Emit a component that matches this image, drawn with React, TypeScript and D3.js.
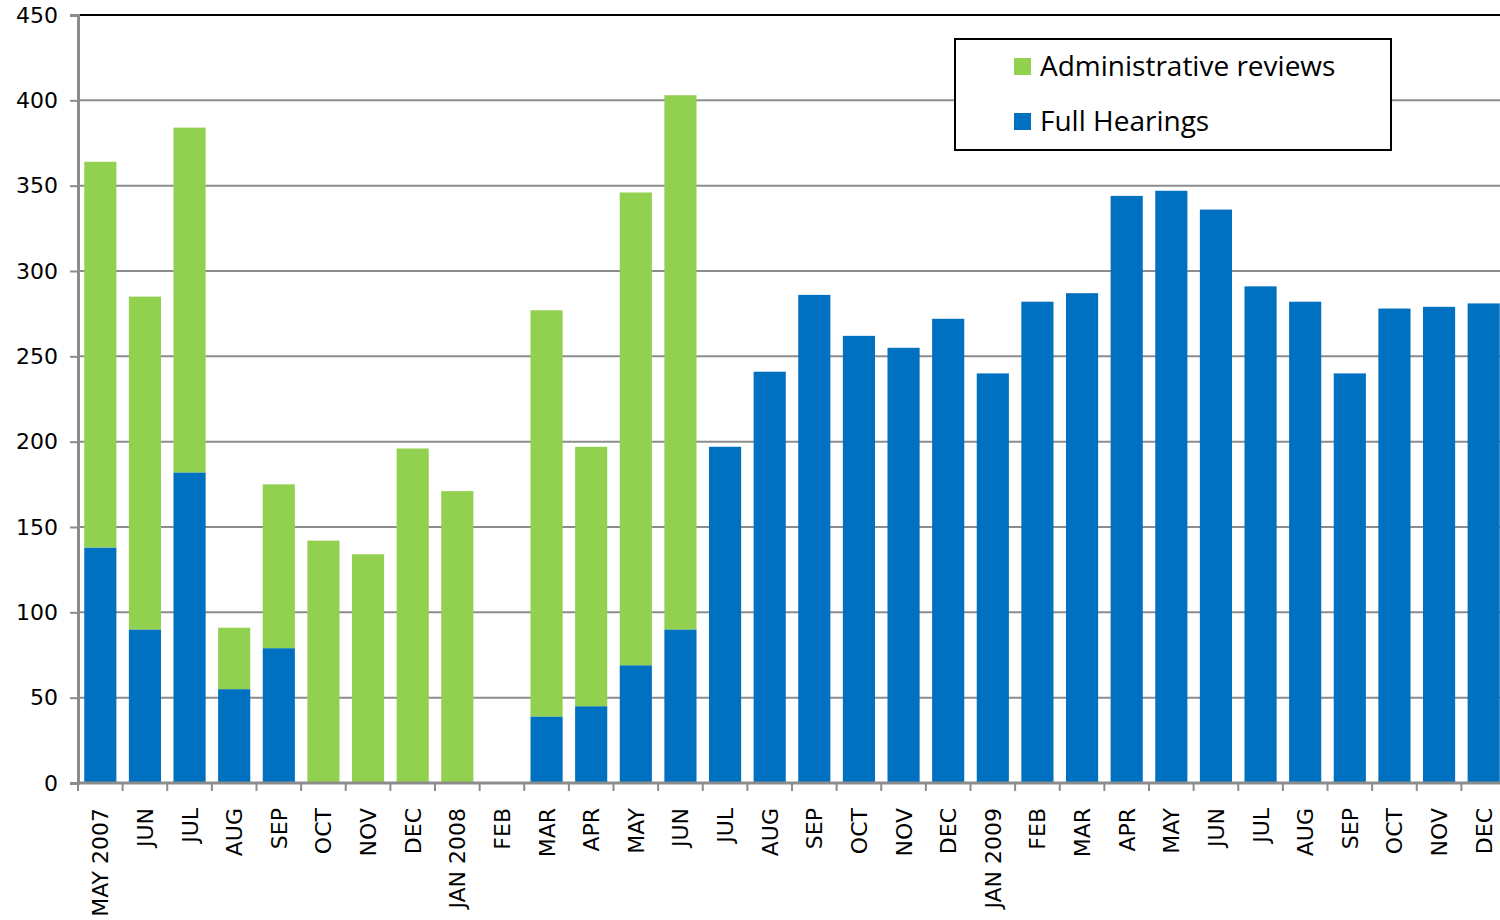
import React, { useEffect, useRef } from 'react';
import * as d3 from 'd3';

const months = [
  'MAY 2007', 'JUN', 'JUL', 'AUG', 'SEP', 'OCT', 'NOV', 'DEC',
  'JAN 2008', 'FEB', 'MAR', 'APR', 'MAY', 'JUN', 'JUL', 'AUG', 'SEP', 'OCT', 'NOV', 'DEC',
  'JAN 2009', 'FEB', 'MAR', 'APR', 'MAY', 'JUN', 'JUL', 'AUG', 'SEP', 'OCT', 'NOV', 'DEC',
];

const fullHearings = [
  138, 90, 182, 55, 79, 0, 0, 0,
  0, 0, 39, 45, 69, 90, 197, 241, 286, 262, 255, 272,
  240, 282, 287, 344, 347, 336, 291, 282, 240, 278, 279, 281,
];

const adminReviews = [
  226, 195, 202, 36, 96, 142, 134, 196,
  171, 0, 238, 152, 277, 313, 0, 0, 0, 0, 0, 0,
  0, 0, 0, 0, 0, 0, 0, 0, 0, 0, 0, 0,
];

const yTicks = [0, 50, 100, 150, 200, 250, 300, 350, 400, 450];

const GREEN = '#92D050';
const BLUE = '#0070C0';

export default function App() {
  const svgRef = useRef<SVGSVGElement>(null);

  useEffect(() => {
    document.body.style.margin = '0';
    if (!svgRef.current) return;

    const H = 920;
    const margin = { top: 15, bottom: 137, left: 78 };
    // the plot area runs a little past the right edge of the picture
    const width = 1428;
    const height = H - margin.top - margin.bottom;

    const svg = d3.select(svgRef.current);
    svg.selectAll('*').remove();

    const g = svg.append('g').attr('transform', `translate(${margin.left},${margin.top})`);

    const keys = months.map((m, i) => `${i}`);
    const x = d3.scaleBand<string>().domain(keys).range([0, width]).paddingInner(0.28).paddingOuter(0.14);
    const y = d3.scaleLinear().domain([0, 450]).range([height, 0]);

    // Grid
    g.append('g')
      .selectAll('line')
      .data(yTicks.filter(t => t > 0 && t < 450))
      .enter()
      .append('line')
      .attr('x1', 0)
      .attr('x2', width)
      .attr('y1', d => y(d))
      .attr('y2', d => y(d))
      .attr('stroke', '#8c8c8c')
      .attr('stroke-width', 2);

    // top border
    g.append('line')
      .attr('x1', 0).attr('x2', width)
      .attr('y1', y(450)).attr('y2', y(450))
      .attr('stroke', '#000').attr('stroke-width', 2);

    // Stacked bars
    const data = months.map((m, i) => ({ key: `${i}`, full: fullHearings[i], admin: adminReviews[i] }));
    const stack = d3.stack<any>().keys(['full', 'admin'])(data);
    const colors: Record<string, string> = { full: BLUE, admin: GREEN };

    g.selectAll('g.series')
      .data(stack)
      .enter()
      .append('g')
      .attr('class', 'series')
      .attr('fill', d => colors[d.key])
      .selectAll('rect')
      .data(d => d.filter(p => p[1] - p[0] > 0))
      .enter()
      .append('rect')
      .attr('x', d => x(d.data.key) || 0)
      .attr('width', x.bandwidth())
      .attr('y', d => y(d[1]))
      .attr('height', d => y(d[0]) - y(d[1]));

    // Y axis
    const yAxis = g.append('g').call(d3.axisLeft(y).tickValues(yTicks).tickSize(8).tickPadding(12));
    yAxis.select('.domain').attr('stroke', '#8c8c8c').attr('stroke-width', 3);
    yAxis.selectAll('.tick line').attr('stroke', '#8c8c8c').attr('stroke-width', 2);
    yAxis.selectAll('text')
      .attr('font-family', '"DejaVu Sans", sans-serif')
      .attr('font-size', 22)
      .attr('fill', '#000');

    // X axis
    const xg = g.append('g').attr('transform', `translate(0,${height})`);
    xg.append('line')
      .attr('x1', 0).attr('x2', width)
      .attr('stroke', '#8c8c8c').attr('stroke-width', 3);
    const step = x.step();
    const bounds = d3.range(0, months.length + 1).map(i => i * step);
    xg.selectAll('line.tk')
      .data(bounds)
      .enter()
      .append('line')
      .attr('class', 'tk')
      .attr('x1', d => d).attr('x2', d => d)
      .attr('y1', 0).attr('y2', 8)
      .attr('stroke', '#8c8c8c').attr('stroke-width', 2);

    xg.selectAll('text')
      .data(months)
      .enter()
      .append('text')
      .attr('transform', (d, i) => `translate(${(x(`${i}`) || 0) + x.bandwidth() / 2 + 8},25) rotate(-90)`)
      .attr('text-anchor', 'end')
      .attr('font-family', '"DejaVu Sans", sans-serif')
      .attr('font-size', 22)
      .attr('fill', '#000')
      .text(d => d);

    // Legend
    const lg = svg.append('g').attr('transform', 'translate(955,39)');
    lg.append('rect')
      .attr('width', 436).attr('height', 111)
      .attr('fill', '#fff').attr('stroke', '#000').attr('stroke-width', 2);
    const items = [
      { label: 'Administrative reviews', color: GREEN },
      { label: 'Full Hearings', color: BLUE },
    ];
    items.forEach((it, i) => {
      const row = lg.append('g').attr('transform', `translate(59,${19 + i * 55})`);
      row.append('rect').attr('width', 17).attr('height', 17).attr('fill', it.color);
      row.append('text')
        .attr('x', 26).attr('y', 18)
        .attr('font-family', '"Open Sans", sans-serif')
        .attr('font-size', 28)
        .attr('fill', '#000')
        .text(it.label);
    });
  }, []);

  return <svg ref={svgRef} width={1500} height={920} style={{ display: 'block' }} />;
}
